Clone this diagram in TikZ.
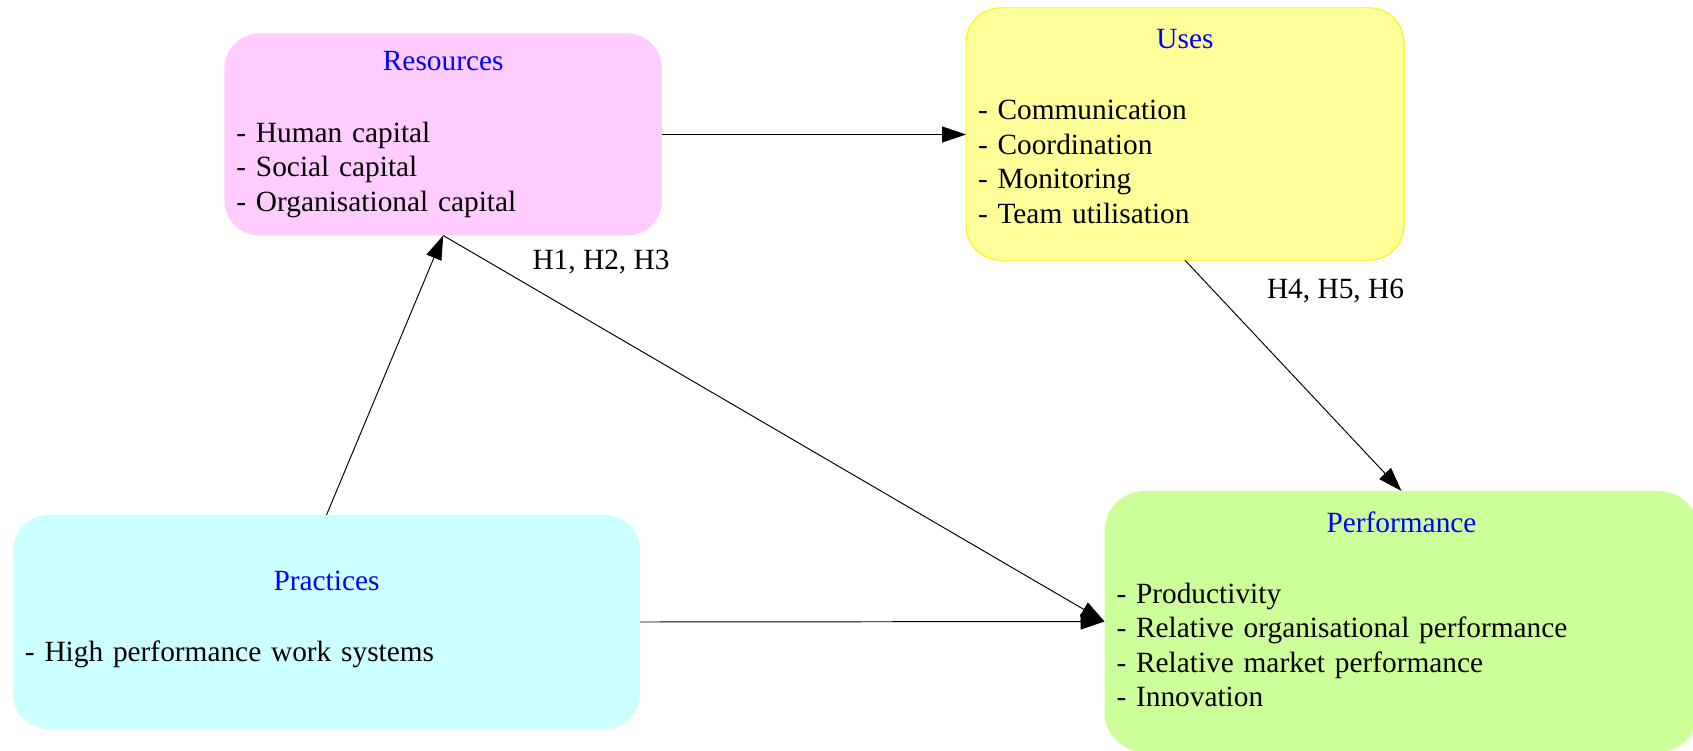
\documentclass[tikz,border=0pt]{standalone}
\usepackage{fontspec}
\setmainfont{Liberation Serif}
\usepackage{xcolor}
\usetikzlibrary{arrows.meta}

\definecolor{respink}{HTML}{FFCCFF}
\definecolor{useyellow}{HTML}{FFFF99}
\definecolor{pracyan}{HTML}{CCFFFF}
\definecolor{perfgreen}{HTML}{CCFF99}

\newcommand{\boxtitle}[1]{\makebox[\linewidth]{\textcolor{blue}{#1}}}

\begin{document}
\begin{tikzpicture}[
    box/.style={rounded corners=0.7cm, outer sep=0pt, inner xsep=0.24cm, align=left, font=\fontsize{16.7}{19.6}\selectfont},
    resbox/.style={box, fill=respink, text width=8.27cm, minimum height=4.04cm},
    usebox/.style={box, fill=useyellow, draw=yellow, line width=0.55pt, text width=8.28cm, minimum height=5.05cm},
    pracbox/.style={box, fill=pracyan, text width=12.06cm, minimum height=4.28cm},
    perfbox/.style={box, fill=perfgreen, rounded corners=0.8cm, text width=11.40cm, minimum height=5.22cm},
    arr/.style={-{Triangle[length=0.48cm, width=0.32cm]}, line width=0.55pt},
    hyp/.style={font=\fontsize{16.7}{19.6}\selectfont},
]
\useasboundingbox (0,0) rectangle (33.86,15);

% Boxes
\node[resbox] (resources) at (8.864, 12.31) {\boxtitle{Resources}\\[21pt]
- Human capital\\
- Social capital\\
- Organisational capital};

\node[usebox] (uses) at (23.70, 12.32) {\boxtitle{Uses}\\[21pt]
- Communication\\
- Coordination\\
- Monitoring\\
- Team utilisation\\[-10.6pt]\mbox{}};

\node[pracbox] (practices) at (6.53, 2.56) {\boxtitle{Practices}\\[21pt]
- High performance work systems\\[-12.8pt]\mbox{}};

\node[perfbox] (performance) at (28.03, 2.57) {\boxtitle{Performance}\\[21pt]
- Productivity\\
- Relative organisational performance\\
- Relative market performance\\
- Innovation\\[-5.6pt]\mbox{}};

% Arrows
\draw[arr] (resources.east) -- (resources.east -| uses.west);
\draw[arr] (practices.north) -- (resources.south);
\draw[arr] (resources.south) -- (performance.west);
\draw[arr] (practices.east) -- (performance.west);
\draw[arr] (uses.south) -- (performance.north);

% Hypothesis labels
\node[hyp] (h123) at (12.02, 9.76) {H1, H2, H3};
\node[hyp] (h456) at (26.71, 9.17) {H4, H5, H6};

\end{tikzpicture}
\end{document}
